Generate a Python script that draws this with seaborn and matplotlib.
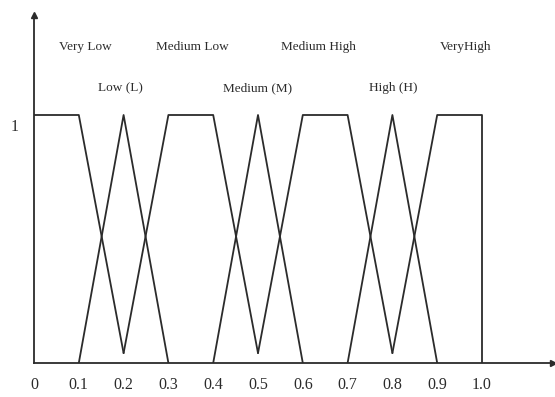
import matplotlib
matplotlib.use("Agg")
import matplotlib.pyplot as plt
import matplotlib.transforms as mtransforms
import pandas as pd
import seaborn as sns

# membership functions (x, mu)
set_names = ["Very Low", "Low (L)", "Medium Low", "Medium (M)", "Medium High", "High (H)", "VeryHigh"]
very_low_x = [0, 0.1, 0.2]
very_low_mu = [1, 1, 0.04]
low_x = [0.1, 0.2, 0.3]
low_mu = [0, 1, 0]
med_low_x = [0.2, 0.3, 0.4, 0.5]
med_low_mu = [0.04, 1, 1, 0.04]
medium_x = [0.4, 0.5, 0.6]
medium_mu = [0, 1, 0]
med_high_x = [0.5, 0.6, 0.7, 0.8]
med_high_mu = [0.04, 1, 1, 0.04]
high_x = [0.7, 0.8, 0.9]
high_mu = [0, 1, 0]
very_high_x = [0.8, 0.9, 1.0, 1.0]
very_high_mu = [0.04, 1, 1, 0]

tick_vals = [0, 0.1, 0.2, 0.3, 0.4, 0.5, 0.6, 0.7, 0.8, 0.9, 1.0]
tick_labels = ["0", "0.1", "0.2", "0.3", "0.4", "0.5", "0.6", "0.7", "0.8", "0.9", "1.0"]

xs = [very_low_x, low_x, med_low_x, medium_x, med_high_x, high_x, very_high_x]
mus = [very_low_mu, low_mu, med_low_mu, medium_mu, med_high_mu, high_mu, very_high_mu]
rows = []
for name, xx, mm in zip(set_names, xs, mus):
    for a, b in zip(xx, mm):
        rows.append({"x": a, "mu": b, "set": name})
df = pd.DataFrame(rows)

sns.set_theme(style="white")
plt.rcParams["font.family"] = ["Liberation Serif", "DejaVu Serif"]

ink = "#2b2b2b"
fig = plt.figure(figsize=(5.55, 3.97), dpi=100)
ax = fig.add_axes([34 / 555, 34 / 397, 519 / 555, 348 / 397])

sns.lineplot(data=df, x="x", y="mu", hue="set", estimator=None, sort=False,
             palette=[ink] * len(set_names), legend=False, lw=1.3, ax=ax)

ax.set_xlim(0, 519 / 448)
ax.set_ylim(0, 348 / 248)

# axes with arrows
ax.spines[["top", "right"]].set_visible(False)
for s in ["left", "bottom"]:
    ax.spines[s].set_color(ink)
    ax.spines[s].set_linewidth(1.3)
ax.plot(1, 0, ">", color=ink, ms=5, transform=ax.get_yaxis_transform(), clip_on=False)
ax.plot(0, 1, "^", color=ink, ms=5, transform=ax.get_xaxis_transform(), clip_on=False)

ax.set_xticks(tick_vals, tick_labels)
ax.set_yticks([1], ["1"])
ax.tick_params(axis="x", length=0, pad=10, labelsize=11.5, colors=ink)
ax.tick_params(axis="y", length=0, pad=11, labelsize=11.5, colors=ink)
for lbl in ax.get_yticklabels():
    lbl.set_transform(lbl.get_transform() + mtransforms.ScaledTranslation(0, -0.10, fig.dpi_scale_trans))
ax.set_xlabel("")
ax.set_ylabel("")

# set names, two staggered rows
label_x = [0.114, 0.194, 0.353, 0.498, 0.636, 0.801, 0.964]
label_y = [1.274, 1.109, 1.274, 1.109, 1.274, 1.109, 1.274]
for name, lx, ly in zip(set_names, label_x, label_y):
    ax.text(lx, ly, name, ha="center", va="center", fontsize=9.5, color=ink)

fig.savefig("out.png", dpi=100)
